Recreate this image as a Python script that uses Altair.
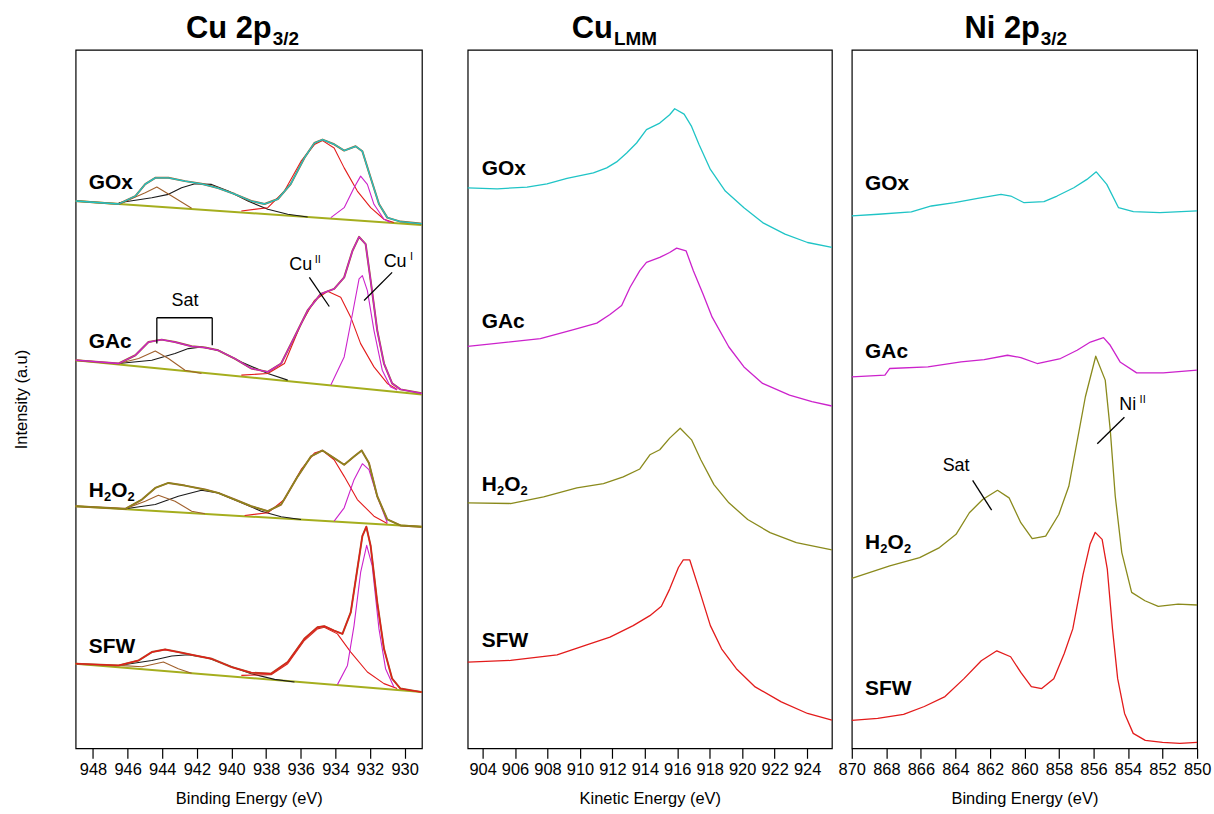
import altair as alt
import pandas as pd

FONT = "Liberation Sans"
H = 702

# ---------------- Cu 2p3/2 (binding energy, eV ; intensity a.u.) ----------------
CU_GOX_ENV = [(949.0,550),(946.51,547),(945.55,555),(944.98,567),(944.40,573.3),(943.64,573.3),(942.68,570),(941.73,567.3),(940.77,563),(939.81,557),(938.86,550),(938.09,547),(937.32,552),(936.58,567),(935.79,593.3),(935.21,608.3),(934.74,611.7),(934.07,607),(933.49,600.7),(932.83,605),(932.44,600),(931.96,573.3),(931.48,547),(931.0,533.3),(930.24,529.3),(929.09,527.3),(929.0,527)]
CU_GOX_BG = [(949.0,550),(929.0,526)]
CU_GOX_CU2 = [(939.43,540),(937.90,543.3),(936.94,560),(935.98,590),(935.21,606.7),(934.74,610.7),(934.07,603.3),(933.49,583.3),(932.73,560),(931.96,543.3),(931.19,531.7),(930.62,528.3)]
CU_GOX_CU1 = [(934.26,533.3),(933.49,543.3),(932.92,563.3),(932.54,575),(932.15,566.7),(931.77,546.7),(931.19,531.7),(930.82,528.3)]
CU_GOX_SAT1 = [(946.51,546.7),(944.98,558.3),(944.31,564),(943.45,555),(942.30,542.7)]
CU_GOX_SAT2 = [(946.51,548.3),(944.60,553.3),(943.64,556.7),(942.88,563.3),(942.11,567.3),(941.15,566.7),(940.19,560),(939.05,550),(937.90,541.7),(936.75,536.7),(935.60,534)]

CU_GAC_ENV = [(949.0,390),(946.51,386.7),(945.55,395),(944.79,408.3),(944.03,410.7),(943.26,408.3),(942.30,404),(941.53,402.7),(940.77,400),(939.81,391.7),(938.86,381.7),(937.90,378.3),(937.13,386.7),(936.36,413.3),(935.60,440),(934.84,456.7),(934.07,461.7),(933.49,473.3),(933.01,500),(932.63,514),(932.25,506.7),(931.96,470),(931.58,420),(931.19,386.7),(930.72,366.7),(930.24,360.7),(929.09,357),(929.0,356.5)]
CU_GAC_BG = [(949.0,390),(929.0,355.6)]
CU_GAC_CU2 = [(939.43,375),(937.90,376.7),(936.94,386.7),(935.98,426.7),(935.21,450),(934.45,459.3),(933.69,453.3),(933.11,433.3),(932.54,406.7),(931.77,383.3),(931.0,366.7),(930.43,360.7)]
CU_GAC_CU1 = [(934.26,365),(933.49,393.3),(933.01,436.7),(932.63,471.7),(932.44,475),(932.15,460),(931.77,420),(931.29,380),(930.82,363.3),(930.43,360)]
CU_GAC_SAT1 = [(946.51,386.7),(945.36,391.7),(944.40,399.3),(943.64,391.7),(942.68,380),(941.73,376.7)]
CU_GAC_SAT2 = [(946.51,386.7),(944.60,390),(943.26,396.7),(942.49,401.7),(941.73,403.3),(940.77,400),(939.43,388.3),(937.90,376.7),(936.75,370)]

CU_H2O2_ENV = [(949.0,243.3),(946.13,240.7),(945.17,250),(944.40,261.7),(943.64,266.7),(942.68,264),(941.53,260),(940.77,256.7),(939.81,250),(938.86,243.3),(937.90,238.3),(937.13,245),(936.17,273.3),(935.41,293.3),(934.74,299.3),(934.07,291.7),(933.49,285),(932.92,293.3),(932.48,299.3),(932.06,286.7),(931.58,253.3),(931.0,230),(930.24,224),(929.09,222.7),(929.0,222.6)]
CU_H2O2_BG = [(949.0,243.3),(929.0,222.6)]
CU_H2O2_CU2 = [(939.24,234),(937.90,236.7),(936.94,250),(935.98,280),(935.21,296.7),(934.74,299.3),(934.07,290),(933.49,273.3),(932.73,250),(931.77,233.3),(931.0,226)]
CU_H2O2_CU1 = [(934.07,228.3),(933.49,241.7),(932.92,270),(932.44,286),(932.06,280),(931.58,253.3),(931.0,226.7)]
CU_H2O2_SAT1 = [(946.13,240.7),(944.98,248.3),(944.22,254.3),(943.26,248.3),(942.30,238.3),(941.53,235.7)]
CU_H2O2_SAT2 = [(946.13,240.7),(944.40,245),(943.07,253.3),(941.73,259.3),(940.77,256.7),(939.62,248.3),(938.28,238.3),(937.13,232.7),(935.98,230)]

CU_SFW_ENV = [(949.0,85),(946.51,83.3),(945.36,88.3),(944.60,96.7),(943.83,99.3),(943.07,96.7),(942.11,93.3),(941.15,90),(940.0,81.7),(938.86,76),(937.71,75),(936.75,86.7),(935.79,110),(935.03,121.7),(934.64,122.7),(934.07,118.3),(933.59,115),(933.11,136.7),(932.73,180),(932.44,213.3),(932.21,222.7),(931.96,203.3),(931.58,146.7),(931.19,100),(930.72,70),(930.24,60),(929.09,56.7),(929.0,56.5)]
CU_SFW_BG = [(949.0,85),(929.0,56.5)]
CU_SFW_CU2 = [(939.43,73.3),(937.71,74),(936.75,85),(935.79,108.3),(935.03,120),(934.64,121.7),(933.88,115),(933.11,96.7),(932.15,76.7),(931.19,65),(930.43,60)]
CU_SFW_CU1 = [(933.88,64),(933.30,83.3),(932.92,123.3),(932.54,176.7),(932.19,204),(931.87,183.3),(931.48,120),(931.10,80),(930.62,61.7)]
CU_SFW_SAT1 = [(946.51,83.3),(945.17,82),(943.93,86.7),(943.07,80),(942.30,75.5)]
CU_SFW_SAT2 = [(946.51,83.3),(944.60,88.3),(943.45,92.7),(942.49,94),(941.34,90.7),(940.19,83.3),(938.86,75),(937.51,69.3),(936.36,66.7)]

# ---------------- Cu LMM (kinetic energy, eV) ----------------
LMM_GOX = [(903.08,563.3),(904.90,562.3),(906.74,564),(907.97,567.3),(909.20,572.7),(910.83,578.3),(911.65,583.3),(912.26,589.3),(912.88,598.3),(913.49,608.3),(914.10,621.7),(914.92,628.3),(915.53,636.7),(915.84,642.7),(916.42,637.3),(916.88,625),(917.34,606.7),(918.04,581.7),(918.96,560),(920.11,543.3),(921.26,528.3),(922.64,516.7),(924.03,508.3),(925.53,503.3)]
LMM_GAC = [(903.08,404),(904.69,406.7),(907.56,411.7),(909.61,420.7),(911.04,427.3),(911.85,436),(912.57,445),(913.09,463.3),(913.69,480),(914.10,488.3),(914.92,493.3),(915.53,498.3),(915.96,502.7),(916.54,500),(916.99,480),(917.58,456.7),(918.15,433.3),(919.18,403.3),(920.11,383.3),(921.26,366.7),(922.92,355),(924.30,348.3),(925.53,344)]
LMM_H2O2 = [(903.08,246.7),(905.72,246),(907.76,252.7),(909.81,261.7),(911.45,266),(912.67,272.7),(913.69,280.7),(914.31,295),(914.92,300),(915.53,311.7),(916.18,321.7),(916.88,310),(917.45,290),(918.26,265),(919.18,246.7),(920.34,230),(921.72,216.7),(923.34,206.7),(925.53,199.3)]
LMM_SFW = [(903.08,86.7),(905.72,88.3),(908.59,94),(910.42,104),(911.85,111.7),(913.28,123.3),(914.31,133.3),(915.02,142.7),(915.53,160),(916.07,181.7),(916.37,189.3),(916.77,189.3),(917.34,160),(918.04,123.3),(918.73,100),(919.64,80),(920.80,61.7),(922.41,46.7),(924.03,35),(925.53,28.3)]

# ---------------- Ni 2p3/2 (binding energy, eV) ----------------
NI_GOX = [(870,535),(868.47,536.7),(866.55,539),(865.39,545),(864.05,548.3),(862.71,552.7),(861.36,556.7),(860.79,555),(860.02,548.3),(858.87,549.3),(858.11,555),(857.14,563.3),(856.38,571.7),(855.84,579.3),(855.23,566.7),(854.55,543.3),(853.69,539.3),(852.15,538.3),(850,540)]
NI_GAC = [(870,373.3),(868.08,375),(867.80,381.7),(865.59,383.3),(863.67,388.3),(862.33,390.7),(860.98,395),(860.21,392.7),(859.26,386.7),(857.91,391.7),(856.95,400),(856.18,408.3),(855.42,412.7),(855.03,405),(854.46,388.3),(853.50,377.3),(851.96,377.3),(850,380)]
NI_H2O2 = [(870,170.7),(867.80,183.3),(866.07,191.7),(864.92,201.7),(863.96,215),(863.19,236.7),(862.42,250),(861.56,259.3),(860.89,251.7),(860.21,226.7),(859.55,210.7),(858.77,213.3),(858.01,235),(857.43,263.3),(856.86,316.7),(856.47,353.3),(855.87,394),(855.32,370),(855.03,320),(854.74,253.3),(854.36,196.7),(853.79,156.7),(853.02,148.3),(852.25,142.7),(851.10,145),(850,144)]
NI_SFW = [(870,28),(868.5,30),(867.0,34),(865.8,42),(864.6,52),(863.5,70),(862.5,88),(861.6,98),(860.8,92),(860.2,76),(859.6,62),(859.0,60),(858.3,70),(857.7,95),(857.2,120),(856.6,175),(856.2,205),(855.9,217),(855.5,210),(855.2,180),(854.9,120),(854.6,70),(854.2,35),(853.7,15),(853.0,8),(852.0,6),(851.0,5),(850,6)]

# ---------------- tick values ----------------
CU_TICKS = [948, 946, 944, 942, 940, 938, 936, 934, 932, 930]
LMM_TICKS = [904, 906, 908, 910, 912, 914, 916, 918, 920, 922, 924]
NI_TICKS = [870, 868, 866, 864, 862, 860, 858, 856, 854, 852, 850]

# sample-label anchor positions (energy, intensity) per panel
CU_LABEL_E, CU_LABEL_I = 948.24, [568.3, 408.3, 258.3, 101.7]
LMM_LABEL_E, LMM_LABEL_I = 903.95, [581.7, 428.3, 265.0, 108.3]
NI_LABEL_E, NI_LABEL_I = 869.23, [567.0, 398.3, 206.7, 60.0]

# annotation geometry (energy, intensity)
CU_SAT_BRACKET = [(944.31, 406.7, 944.31, 432.7), (944.31, 432.7, 941.11, 432.7), (941.11, 432.7, 941.11, 405.0)]
CU_SAT_TEXT = (942.68, 449.0)
CU_CU2_LINE = (935.50, 473.3, 934.35, 444.0)
CU_CU2_TEXT = (936.0, 486.0)
CU_CU1_LINE = (930.72, 478.3, 932.34, 450.0)
CU_CU1_TEXT = (930.55, 489.0)
NI_SAT_LINE = (863.0, 269.3, 861.9, 239.3)
NI_SAT_TEXT = (863.96, 283.5)
NI_NI2_LINE = (854.21, 332.7, 855.78, 306.0)
NI_NI2_TEXT = (854.02, 345.0)

C_CYAN = "#1fc4c6"
C_MAG = "#cc22cc"
C_OLIVE = "#8a8a1c"
C_RED = "#e31b1b"
C_BROWN = "#a0602c"
C_BG = "#a5ae1e"
C_BLACK = "#1a1a1a"


def curves_df(curves):
    rows = []
    for cid, (pts, color) in enumerate(curves):
        for e, i in pts:
            rows.append({"E": e, "I": i, "cid": cid, "col": color})
    return pd.DataFrame(rows)


def make_panel(dom, rev, width, ticks, xtitle, ytitle, line_specs, texts, rules, titles, flush=True):
    ax = alt.Axis(values=ticks, format="d", tickSize=10, tickColor="black", tickWidth=1.2,
                  labelFontSize=16.5, labelColor="black", labelPadding=3, labelFlush=flush,
                  title=xtitle, titleFontSize=16.5, titleFontWeight="normal", titleColor="black",
                  titlePadding=13, grid=False, domain=False)
    sc = alt.Scale(domain=dom, reverse=rev, nice=False, zero=False)
    ysc = alt.Scale(domain=[0, H], nice=False, zero=False)
    if ytitle:
        yax = alt.Axis(title=ytitle, ticks=False, labels=False, domain=False, grid=False,
                       titlePadding=46, titleFontSize=16.5, titleFontWeight="normal",
                       titleColor="black")
    else:
        yax = None

    def X(f):
        return alt.X(f, type="quantitative", scale=sc, axis=ax)

    def Y(f):
        return alt.Y(f, type="quantitative", scale=ysc, axis=yax)

    layers = []
    for curves, w in line_specs:
        layers.append(
            alt.Chart(curves_df(curves)).mark_line(strokeWidth=w, strokeJoin="round").encode(
                x=X("E"), y=Y("I"), detail="cid:N", color=alt.Color("col:N", scale=None)
            )
        )
    if rules:
        rdf = pd.DataFrame(rules, columns=["E1", "I1", "E2", "I2"])
        layers.append(
            alt.Chart(rdf).mark_rule(color="black", strokeWidth=1.3).encode(
                x=X("E1"), y=Y("I1"), x2=alt.X2("E2"), y2=alt.Y2("I2")
            )
        )
    for t in texts:
        tdf = pd.DataFrame({"E": [t["E"]], "I": [t["I"]]})
        layers.append(
            alt.Chart(tdf).mark_text(
                text=t["text"], fontSize=t["size"], fontWeight="bold" if t.get("bold") else "normal",
                align=t.get("align", "left"), baseline="middle", dx=t.get("dx", 0), dy=t.get("dy", 0),
                color="black", font=FONT,
            ).encode(x=X("E"), y=Y("I"))
        )
    for (px, py, text, size, align) in titles:
        layers.append(
            alt.Chart(pd.DataFrame({"a": [0]})).mark_text(
                text=text, fontSize=size, fontWeight="bold", align=align, baseline="alphabetic",
                color="black", font=FONT,
            ).encode(x=alt.value(px), y=alt.value(py))
        )
    return alt.layer(*layers).properties(width=width, height=H)


def sample_labels(E, Is):
    out = []
    out.append(dict(E=E, I=Is[0], text="GOx", size=21, bold=True))
    out.append(dict(E=E, I=Is[1], text="GAc", size=21, bold=True))
    out.append(dict(E=E, I=Is[2], text="H", size=21, bold=True))
    out.append(dict(E=E, I=Is[2], text="2", size=13, bold=True, dx=15.2, dy=6))
    out.append(dict(E=E, I=Is[2], text="O", size=21, bold=True, dx=22.6))
    out.append(dict(E=E, I=Is[2], text="2", size=13, bold=True, dx=39.0, dy=6))
    out.append(dict(E=E, I=Is[3], text="SFW", size=21, bold=True))
    return out


# ---------- panel 1 ----------
cu_lines = [
    ([(CU_GOX_BG, C_BG), (CU_GAC_BG, C_BG), (CU_H2O2_BG, C_BG), (CU_SFW_BG, C_BG)], 2.0),
    ([(CU_GOX_SAT2, C_BLACK), (CU_GAC_SAT2, C_BLACK), (CU_H2O2_SAT2, C_BLACK), (CU_SFW_SAT2, C_BLACK)], 1.1),
    ([(CU_GOX_SAT1, C_BROWN), (CU_GAC_SAT1, C_BROWN), (CU_H2O2_SAT1, C_BROWN), (CU_SFW_SAT1, C_BROWN)], 1.1),
    ([(CU_GOX_CU2, C_RED), (CU_GAC_CU2, C_RED), (CU_H2O2_CU2, C_RED), (CU_SFW_CU2, C_RED)], 1.1),
    ([(CU_GOX_CU1, C_MAG), (CU_GAC_CU1, C_MAG), (CU_H2O2_CU1, C_MAG), (CU_SFW_CU1, C_MAG)], 1.1),
    ([(CU_GOX_ENV, C_BROWN), (CU_GAC_ENV, C_BROWN), (CU_H2O2_ENV, C_BROWN), (CU_SFW_ENV, C_BROWN)], 2.0),
    ([(CU_GOX_ENV, C_CYAN), (CU_GAC_ENV, C_MAG), (CU_H2O2_ENV, C_OLIVE), (CU_SFW_ENV, C_RED)], 1.3),
]
cu_texts = sample_labels(CU_LABEL_E, CU_LABEL_I) + [
    dict(E=CU_SAT_TEXT[0], I=CU_SAT_TEXT[1], text="Sat", size=18, align="center"),
    dict(E=CU_CU2_TEXT[0], I=CU_CU2_TEXT[1], text="Cu", size=18, align="center"),
    dict(E=CU_CU2_TEXT[0], I=CU_CU2_TEXT[1], text="II", size=11, align="left", dx=14, dy=-5),
    dict(E=CU_CU1_TEXT[0], I=CU_CU1_TEXT[1], text="Cu", size=18, align="center"),
    dict(E=CU_CU1_TEXT[0], I=CU_CU1_TEXT[1], text="I", size=11, align="left", dx=15, dy=-5),
]
cu_rules = CU_SAT_BRACKET + [CU_CU2_LINE, CU_CU1_LINE]
p1 = make_panel([929, 949], True, 348, CU_TICKS, "Binding Energy (eV)", "Intensity (a.u)",
                cu_lines, cu_texts, cu_rules,
                [(197, -12, "Cu 2p", 31, "right"), (198, -5, "3/2", 19, "left")])

# ---------- panel 2 ----------
lmm_lines = [
    ([(LMM_GOX, C_CYAN), (LMM_GAC, C_MAG), (LMM_H2O2, C_OLIVE), (LMM_SFW, C_RED)], 1.3),
]
p2 = make_panel([903.08, 925.53], False, 366, LMM_TICKS, "Kinetic Energy (eV)", None,
                lmm_lines, sample_labels(LMM_LABEL_E, LMM_LABEL_I), [],
                [(146, -12, "Cu", 31, "right"), (147, -5, "LMM", 19, "left")])

# ---------- panel 3 ----------
ni_lines = [
    ([(NI_GOX, C_CYAN), (NI_GAC, C_MAG), (NI_H2O2, C_OLIVE), (NI_SFW, C_RED)], 1.3),
]
ni_texts = sample_labels(NI_LABEL_E, NI_LABEL_I) + [
    dict(E=NI_SAT_TEXT[0], I=NI_SAT_TEXT[1], text="Sat", size=18, align="center"),
    dict(E=NI_NI2_TEXT[0], I=NI_NI2_TEXT[1], text="Ni", size=18, align="center"),
    dict(E=NI_NI2_TEXT[0], I=NI_NI2_TEXT[1], text="II", size=11, align="left", dx=12, dy=-5),
]
p3 = make_panel([850, 870], True, 347, NI_TICKS, "Binding Energy (eV)", None,
                ni_lines, ni_texts, [NI_SAT_LINE, NI_NI2_LINE],
                [(189, -12, "Ni 2p", 31, "right"), (190, -5, "3/2", 19, "left")], flush=False)

chart = alt.hconcat(alt.hconcat(p1, p2, spacing=42), p3, spacing=3).properties(
    padding={"left": 13, "top": 10, "right": 2, "bottom": 2}
).configure_view(stroke="black", strokeWidth=1.2).configure_axis(
    labelFont=FONT, titleFont=FONT
).configure_text(font=FONT)

chart.save("out.html", embed_options={"renderer": "svg", "actions": False})
